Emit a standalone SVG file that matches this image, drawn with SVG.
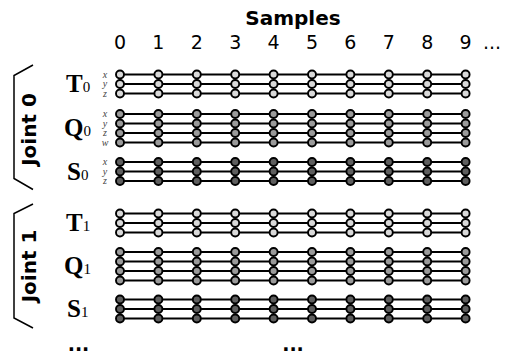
<svg xmlns="http://www.w3.org/2000/svg" xmlns:xlink="http://www.w3.org/1999/xlink" width="505" height="355" viewBox="0 0 505 355">
<style>
.hdr{font-family:"DejaVu Sans",Verdana,sans-serif;font-weight:bold;font-size:20px;fill:#000}
.num{font-family:"DejaVu Sans",Verdana,sans-serif;font-size:19px;fill:#000;text-anchor:middle}
.lbl{font-family:"Liberation Serif","Times New Roman",serif;font-weight:bold;font-size:25px;fill:#000}
.sub{font-family:"Liberation Serif","Times New Roman",serif;font-weight:normal;font-size:15px}
.ax{font-family:"Liberation Serif","Times New Roman",serif;font-style:italic;font-size:10px;fill:#444;text-anchor:middle}
.dots{font-family:"DejaVu Sans",Verdana,sans-serif;font-weight:bold;font-size:19px;fill:#000;text-anchor:middle}
.ln{stroke:#000;stroke-width:2}
.br{fill:none;stroke:#000;stroke-width:1.5}
.t{fill:#d9d9d9}
.q{fill:#9a9a9a}
.s{fill:#5e5e5e}
</style>
<defs>
<g id="row" stroke="#000" stroke-width="1.9">
<circle cx="120" cy="0" r="4"/>
<circle cx="158.4" cy="0" r="4"/>
<circle cx="196.8" cy="0" r="4"/>
<circle cx="235.2" cy="0" r="4"/>
<circle cx="273.6" cy="0" r="4"/>
<circle cx="312" cy="0" r="4"/>
<circle cx="350.4" cy="0" r="4"/>
<circle cx="388.8" cy="0" r="4"/>
<circle cx="427.2" cy="0" r="4"/>
<circle cx="465.6" cy="0" r="4"/>
</g>
</defs>
<rect width="505" height="355" fill="#fff"/>
<g id="header">
<text class="hdr" x="293" y="25" text-anchor="middle">Samples</text>
<text class="num" x="120" y="49">0</text>
<text class="num" x="158.4" y="49">1</text>
<text class="num" x="196.8" y="49">2</text>
<text class="num" x="235.2" y="49">3</text>
<text class="num" x="273.6" y="49">4</text>
<text class="num" x="312" y="49">5</text>
<text class="num" x="350.4" y="49">6</text>
<text class="num" x="388.8" y="49">7</text>
<text class="num" x="427.2" y="49">8</text>
<text class="num" x="465.6" y="49">9</text>
<text class="num" x="492" y="49">...</text>
</g>
<g id="connectors">
<line class="ln" x1="120" y1="74.5" x2="465.6" y2="74.5"/>
<line class="ln" x1="120" y1="84" x2="465.6" y2="84"/>
<line class="ln" x1="120" y1="93.5" x2="465.6" y2="93.5"/>
<line class="ln" x1="120" y1="114" x2="465.6" y2="114"/>
<line class="ln" x1="120" y1="123.5" x2="465.6" y2="123.5"/>
<line class="ln" x1="120" y1="133" x2="465.6" y2="133"/>
<line class="ln" x1="120" y1="142.5" x2="465.6" y2="142.5"/>
<line class="ln" x1="120" y1="162" x2="465.6" y2="162"/>
<line class="ln" x1="120" y1="171.5" x2="465.6" y2="171.5"/>
<line class="ln" x1="120" y1="181" x2="465.6" y2="181"/>
<line class="ln" x1="120" y1="213.5" x2="465.6" y2="213.5"/>
<line class="ln" x1="120" y1="223" x2="465.6" y2="223"/>
<line class="ln" x1="120" y1="232.5" x2="465.6" y2="232.5"/>
<line class="ln" x1="120" y1="252" x2="465.6" y2="252"/>
<line class="ln" x1="120" y1="261.5" x2="465.6" y2="261.5"/>
<line class="ln" x1="120" y1="271" x2="465.6" y2="271"/>
<line class="ln" x1="120" y1="280.5" x2="465.6" y2="280.5"/>
<line class="ln" x1="120" y1="299.5" x2="465.6" y2="299.5"/>
<line class="ln" x1="120" y1="309" x2="465.6" y2="309"/>
<line class="ln" x1="120" y1="318.5" x2="465.6" y2="318.5"/>
</g>
<g id="joint0">
<path class="br" d="M33,65 L14,75.5 L14,178.5 L33,189.5"/>
<text class="hdr" transform="translate(36,129.5) rotate(-90)" text-anchor="middle">Joint 0</text>
</g>
<g id="T0">
<text class="lbl" x="66" y="92">T<tspan class="sub">0</tspan></text>
<text class="ax" x="105" y="77.5">x</text>
<text class="ax" x="105" y="87">y</text>
<text class="ax" x="105" y="96.5">z</text>
<use xlink:href="#row" href="#row" class="t" y="74.5"/>
<use xlink:href="#row" href="#row" class="t" y="84"/>
<use xlink:href="#row" href="#row" class="t" y="93.5"/>
</g>
<g id="Q0">
<text class="lbl" x="64" y="136">Q<tspan class="sub">0</tspan></text>
<text class="ax" x="105" y="117">x</text>
<text class="ax" x="105" y="126.5">y</text>
<text class="ax" x="105" y="136">z</text>
<text class="ax" x="105" y="145.5">w</text>
<use xlink:href="#row" href="#row" class="q" y="114"/>
<use xlink:href="#row" href="#row" class="q" y="123.5"/>
<use xlink:href="#row" href="#row" class="q" y="133"/>
<use xlink:href="#row" href="#row" class="q" y="142.5"/>
</g>
<g id="S0">
<text class="lbl" x="67" y="179.5">S<tspan class="sub">0</tspan></text>
<text class="ax" x="105" y="165">x</text>
<text class="ax" x="105" y="174.5">y</text>
<text class="ax" x="105" y="184">z</text>
<use xlink:href="#row" href="#row" class="s" y="162"/>
<use xlink:href="#row" href="#row" class="s" y="171.5"/>
<use xlink:href="#row" href="#row" class="s" y="181"/>
</g>
<g id="joint1">
<path class="br" d="M33,204 L14,213.5 L14,318 L33,328"/>
<text class="hdr" transform="translate(36,266) rotate(-90)" text-anchor="middle">Joint 1</text>
</g>
<g id="T1">
<text class="lbl" x="66" y="231">T<tspan class="sub">1</tspan></text>
<use xlink:href="#row" href="#row" class="t" y="213.5"/>
<use xlink:href="#row" href="#row" class="t" y="223"/>
<use xlink:href="#row" href="#row" class="t" y="232.5"/>
</g>
<g id="Q1">
<text class="lbl" x="64" y="274">Q<tspan class="sub">1</tspan></text>
<use xlink:href="#row" href="#row" class="q" y="252"/>
<use xlink:href="#row" href="#row" class="q" y="261.5"/>
<use xlink:href="#row" href="#row" class="q" y="271"/>
<use xlink:href="#row" href="#row" class="q" y="280.5"/>
</g>
<g id="S1">
<text class="lbl" x="67" y="317">S<tspan class="sub">1</tspan></text>
<use xlink:href="#row" href="#row" class="s" y="299.5"/>
<use xlink:href="#row" href="#row" class="s" y="309"/>
<use xlink:href="#row" href="#row" class="s" y="318.5"/>
</g>
<g id="more">
<text class="dots" x="78.5" y="351">...</text>
<text class="dots" x="293" y="351">...</text>
</g>
</svg>
